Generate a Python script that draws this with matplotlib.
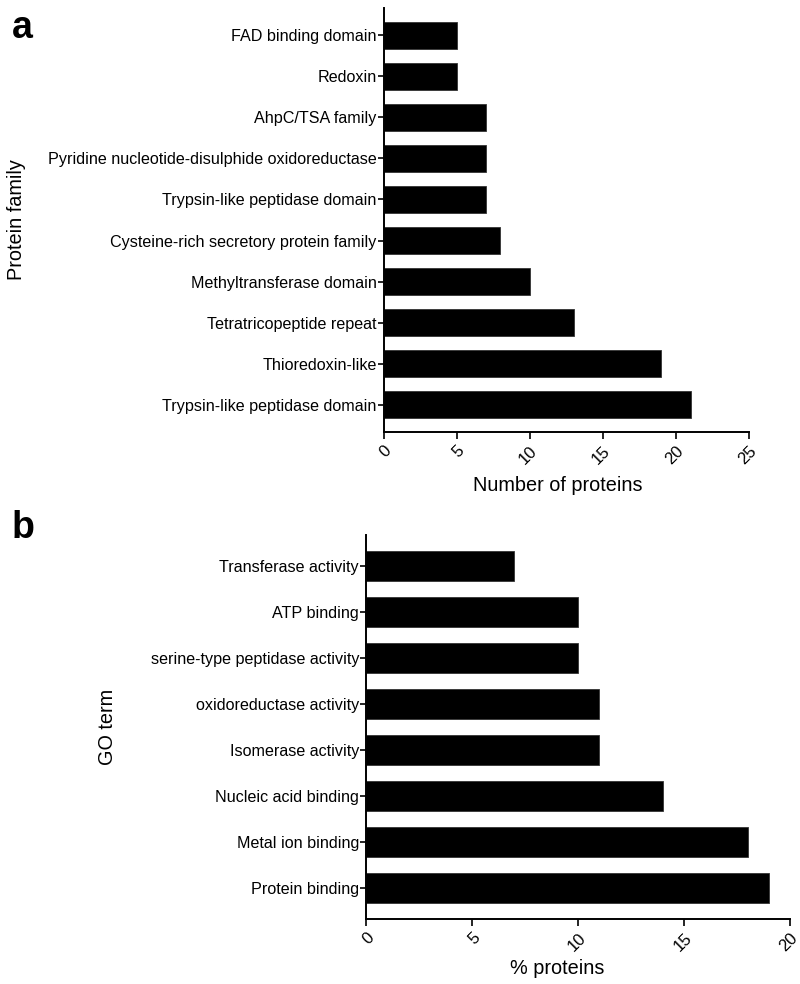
import matplotlib
matplotlib.use("Agg")
import matplotlib.pyplot as plt

plt.rcParams["font.family"] = ["Liberation Sans", "DejaVu Sans"]

# Panel a: protein families (top to bottom)
families = [
    "FAD binding domain",
    "Redoxin",
    "AhpC/TSA family",
    "Pyridine nucleotide-disulphide oxidoreductase",
    "Trypsin-like peptidase domain",
    "Cysteine-rich secretory protein family",
    "Methyltransferase domain",
    "Tetratricopeptide repeat",
    "Thioredoxin-like",
    "Trypsin-like peptidase domain",
]
family_counts = [5, 5, 7, 7, 7, 8, 10, 13, 19, 21]
a_ticks = [0, 5, 10, 15, 20, 25]

# Panel b: GO terms (top to bottom)
go_terms = [
    "Transferase activity",
    "ATP binding",
    "serine-type peptidase activity",
    "oxidoreductase activity",
    "Isomerase activity",
    "Nucleic acid binding",
    "Metal ion binding",
    "Protein binding",
]
go_percent = [7, 10, 10, 11, 11, 14, 18, 19]
b_ticks = [0, 5, 10, 15, 20]

W, H = 800, 984
fig = plt.figure(figsize=(W / 100, H / 100), dpi=100)


def px_axes(left, right, top, bottom):
    return fig.add_axes([left / W, 1 - bottom / H, (right - left) / W, (bottom - top) / H])


def style(ax, labels, values, ticks, bar_h):
    y = list(range(len(labels)))
    ax.barh(y, values, height=bar_h, color="black", edgecolor="#333333", linewidth=0.6)
    ax.set_yticks(y)
    ax.set_yticklabels(labels, fontsize=11.6)
    ax.set_ylim(len(labels) - 1 + 0.67, -0.67)
    ax.set_xticks(ticks)
    ax.set_xticklabels([str(t) for t in ticks], fontsize=12, rotation=45,
                       ha="right", rotation_mode="anchor")
    ax.set_xlim(ticks[0], ticks[-1])
    for s in ["top", "right"]:
        ax.spines[s].set_visible(False)
    for s in ["left", "bottom"]:
        ax.spines[s].set_linewidth(1.4)
    ax.tick_params(axis="y", length=4, width=1.2, pad=1)
    ax.tick_params(axis="x", length=5, width=1.2, pad=3)


# panel a
ax1 = px_axes(383.5, 749, 8, 432)
style(ax1, families, family_counts, a_ticks, 0.66)
ax1.set_xlabel("Number of proteins", fontsize=14.3)
ax1.xaxis.set_label_coords((558 - 383.5) / 365.5, (432 - 476) / 424)
ax1.set_ylabel("Protein family", fontsize=14.3)
ax1.yaxis.set_label_coords((26 - 383.5) / 365.5, 0.5)

# panel b
ax2 = px_axes(366, 790, 535, 919)
style(ax2, go_terms, go_percent, b_ticks, 0.66)
ax2.set_xlabel("% proteins", fontsize=14.3)
ax2.xaxis.set_label_coords((557 - 366) / 424, (919 - 959) / 384)
ax2.set_ylabel("GO term", fontsize=14.3)
ax2.yaxis.set_label_coords((117 - 366) / 424, 0.5)

fig.text(12 / W, 1 - 38 / H, "a", fontsize=27, fontweight="bold", va="baseline")
fig.text(12 / W, 1 - 538 / H, "b", fontsize=27, fontweight="bold", va="baseline")

fig.savefig("out.png", dpi=100)
